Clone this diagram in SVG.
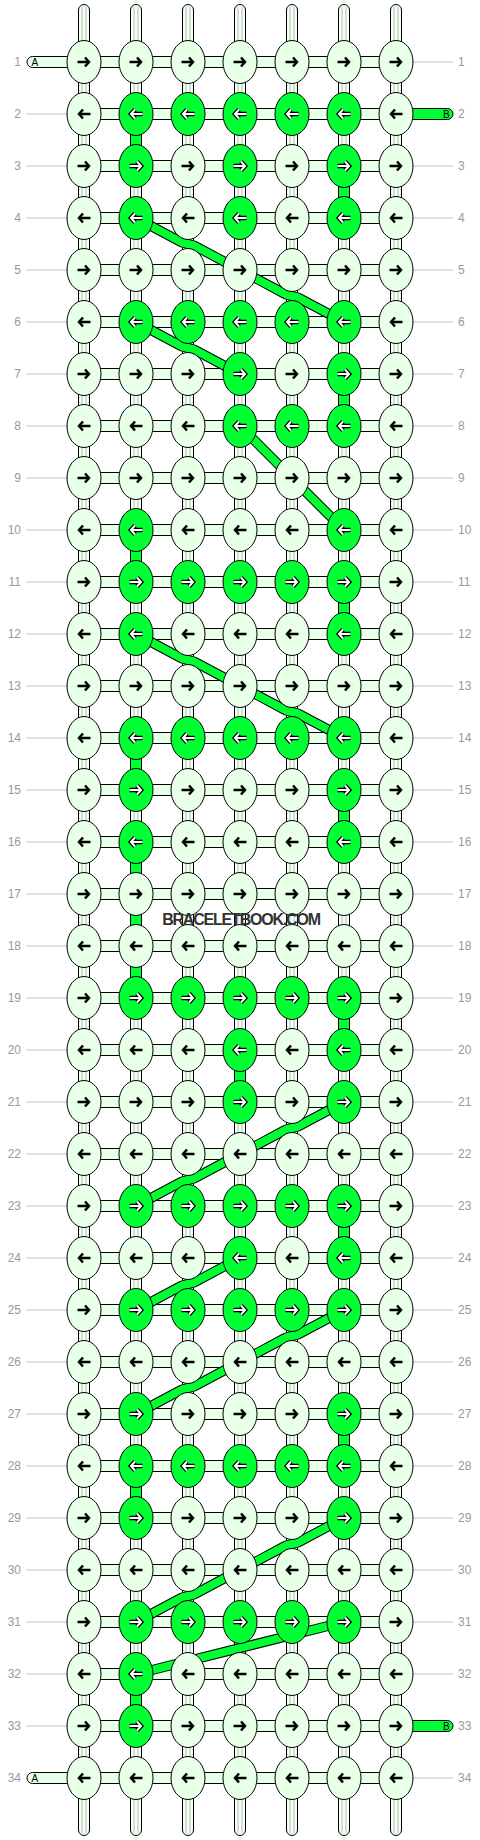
<svg xmlns="http://www.w3.org/2000/svg" width="480" height="1840" viewBox="0 0 480 1840">
<style>
.kl{fill:#e8ffe8;stroke:#000;stroke-width:1}
.kg{fill:#00ff33;stroke:#000;stroke-width:1}
.ab{fill:none;stroke:#000;stroke-width:2.5}
.ao{fill:none;stroke:#000;stroke-width:4.5}
.ai{fill:none;stroke:#fff;stroke-width:2}
.hc{fill:#e8ffe8;stroke:#000;stroke-width:1}
.vs{fill:#f4fff4;stroke:#000;stroke-width:1}
.gl{fill:none;stroke:#bbb;stroke-width:1}
.vg{fill:#00ff33;stroke:#000;stroke-width:1}
.bo{fill:none;stroke:#000;stroke-width:10;stroke-linejoin:round}
.bi{fill:none;stroke:#00ff33;stroke-width:8;stroke-linejoin:round}
.rl{fill:none;stroke:#c4c4c4;stroke-width:1}
.num{font-family:"Liberation Sans",Arial,sans-serif;font-size:12px;fill:#999}
.nr{text-anchor:end}
.lbl{font-family:"Liberation Sans",Arial,sans-serif;font-size:10px;fill:#000}
.wm{font-family:"Liberation Sans",Arial,sans-serif;font-size:16px;font-weight:bold;fill:#333;letter-spacing:-1.2px;text-anchor:middle}
</style>
<defs>
<path id="pr" d="M-6.5,0H4.5M1,-4.5L5,0L1,4.5"/>
<path id="pl" d="M6.5,0H-4.5M-1,-4.5L-5,0L-1,4.5"/>
<g id="Rl"><ellipse class="kl" rx="17" ry="21.5"/><use href="#pr" class="ab"/></g>
<g id="Ll"><ellipse class="kl" rx="17" ry="21.5"/><use href="#pl" class="ab"/></g>
<g id="Rg"><ellipse class="kg" rx="17" ry="21.5"/><use href="#pr" class="ao"/><use href="#pr" class="ai"/></g>
<g id="Lg"><ellipse class="kg" rx="17" ry="21.5"/><use href="#pl" class="ao"/><use href="#pl" class="ai"/></g>
</defs>
<rect width="480" height="1840" fill="#fff"/>
<g id="labels">
<path class="rl" d="M26,114H67M26,166H67M26,218H67M26,270H67M26,322H67M26,374H67M26,426H67M26,478H67M26,530H67M26,582H67M26,634H67M26,686H67M26,738H67M26,790H67M26,842H67M26,894H67M26,946H67M26,998H67M26,1050H67M26,1102H67M26,1154H67M26,1206H67M26,1258H67M26,1310H67M26,1362H67M26,1414H67M26,1466H67M26,1518H67M26,1570H67M26,1622H67M26,1674H67M26,1726H67"/>
<path class="rl" d="M413,62H453M413,166H453M413,218H453M413,270H453M413,322H453M413,374H453M413,426H453M413,478H453M413,530H453M413,582H453M413,634H453M413,686H453M413,738H453M413,790H453M413,842H453M413,894H453M413,946H453M413,998H453M413,1050H453M413,1102H453M413,1154H453M413,1206H453M413,1258H453M413,1310H453M413,1362H453M413,1414H453M413,1466H453M413,1518H453M413,1570H453M413,1622H453M413,1674H453M413,1778H453"/>
<g class="num nr">
<text x="21" y="66.3">1</text><text x="21" y="118.3">2</text><text x="21" y="170.3">3</text><text x="21" y="222.3">4</text><text x="21" y="274.3">5</text><text x="21" y="326.3">6</text><text x="21" y="378.3">7</text><text x="21" y="430.3">8</text><text x="21" y="482.3">9</text><text x="21" y="534.3">10</text><text x="21" y="586.3">11</text><text x="21" y="638.3">12</text><text x="21" y="690.3">13</text><text x="21" y="742.3">14</text><text x="21" y="794.3">15</text><text x="21" y="846.3">16</text><text x="21" y="898.3">17</text><text x="21" y="950.3">18</text><text x="21" y="1002.3">19</text><text x="21" y="1054.3">20</text><text x="21" y="1106.3">21</text><text x="21" y="1158.3">22</text><text x="21" y="1210.3">23</text><text x="21" y="1262.3">24</text><text x="21" y="1314.3">25</text><text x="21" y="1366.3">26</text><text x="21" y="1418.3">27</text><text x="21" y="1470.3">28</text><text x="21" y="1522.3">29</text><text x="21" y="1574.3">30</text><text x="21" y="1626.3">31</text><text x="21" y="1678.3">32</text><text x="21" y="1730.3">33</text><text x="21" y="1782.3">34</text>
</g>
<g class="num">
<text x="458" y="66.3">1</text><text x="458" y="118.3">2</text><text x="458" y="170.3">3</text><text x="458" y="222.3">4</text><text x="458" y="274.3">5</text><text x="458" y="326.3">6</text><text x="458" y="378.3">7</text><text x="458" y="430.3">8</text><text x="458" y="482.3">9</text><text x="458" y="534.3">10</text><text x="458" y="586.3">11</text><text x="458" y="638.3">12</text><text x="458" y="690.3">13</text><text x="458" y="742.3">14</text><text x="458" y="794.3">15</text><text x="458" y="846.3">16</text><text x="458" y="898.3">17</text><text x="458" y="950.3">18</text><text x="458" y="1002.3">19</text><text x="458" y="1054.3">20</text><text x="458" y="1106.3">21</text><text x="458" y="1158.3">22</text><text x="458" y="1210.3">23</text><text x="458" y="1262.3">24</text><text x="458" y="1314.3">25</text><text x="458" y="1366.3">26</text><text x="458" y="1418.3">27</text><text x="458" y="1470.3">28</text><text x="458" y="1522.3">29</text><text x="458" y="1574.3">30</text><text x="458" y="1626.3">31</text><text x="458" y="1678.3">32</text><text x="458" y="1730.3">33</text><text x="458" y="1782.3">34</text>
</g>
</g>
<g id="connectors">
<g id="strands">
<path class="vs" d="M78.5,10A5.5,5.5 0 0 1 89.5,10V1830A5.5,5.5 0 0 1 78.5,1830Z"/>
<path class="vs" d="M130.5,10A5.5,5.5 0 0 1 141.5,10V1830A5.5,5.5 0 0 1 130.5,1830Z"/>
<path class="vs" d="M182.5,10A5.5,5.5 0 0 1 193.5,10V1830A5.5,5.5 0 0 1 182.5,1830Z"/>
<path class="vs" d="M234.5,10A5.5,5.5 0 0 1 245.5,10V1830A5.5,5.5 0 0 1 234.5,1830Z"/>
<path class="vs" d="M286.5,10A5.5,5.5 0 0 1 297.5,10V1830A5.5,5.5 0 0 1 286.5,1830Z"/>
<path class="vs" d="M338.5,10A5.5,5.5 0 0 1 349.5,10V1830A5.5,5.5 0 0 1 338.5,1830Z"/>
<path class="vs" d="M390.5,10A5.5,5.5 0 0 1 401.5,10V1830A5.5,5.5 0 0 1 390.5,1830Z"/>
<path class="gl" d="M82,7V1833M86,7V1833M134,7V1833M138,7V1833M186,7V1833M190,7V1833M238,7V1833M242,7V1833M290,7V1833M294,7V1833M342,7V1833M346,7V1833M394,7V1833M398,7V1833"/>
</g>
<g id="green-verticals" class="vg">
<rect x="130.5" y="124" width="11" height="32"/>
<rect x="338.5" y="176" width="11" height="32"/>
<rect x="338.5" y="384" width="11" height="32"/>
<rect x="130.5" y="540" width="11" height="32"/>
<rect x="338.5" y="592" width="11" height="32"/>
<rect x="130.5" y="748" width="11" height="32"/>
<rect x="338.5" y="800" width="11" height="32"/>
<rect x="130.5" y="852" width="11" height="136"/>
<rect x="338.5" y="1008" width="11" height="32"/>
<rect x="234.5" y="1060" width="11" height="32"/>
<rect x="338.5" y="1216" width="11" height="32"/>
<rect x="338.5" y="1424" width="11" height="32"/>
<rect x="130.5" y="1476" width="11" height="32"/>
<rect x="130.5" y="1684" width="11" height="32"/>
</g>
<g id="rows" class="hc">
<rect x="84" y="56.5" width="312" height="11"/><rect x="84" y="108.5" width="312" height="11"/><rect x="84" y="160.5" width="312" height="11"/><rect x="84" y="212.5" width="312" height="11"/><rect x="84" y="264.5" width="312" height="11"/><rect x="84" y="316.5" width="312" height="11"/><rect x="84" y="368.5" width="312" height="11"/><rect x="84" y="420.5" width="312" height="11"/><rect x="84" y="472.5" width="312" height="11"/><rect x="84" y="524.5" width="312" height="11"/><rect x="84" y="576.5" width="312" height="11"/><rect x="84" y="628.5" width="312" height="11"/><rect x="84" y="680.5" width="312" height="11"/><rect x="84" y="732.5" width="312" height="11"/><rect x="84" y="784.5" width="312" height="11"/><rect x="84" y="836.5" width="312" height="11"/><rect x="84" y="888.5" width="312" height="11"/><rect x="84" y="940.5" width="312" height="11"/><rect x="84" y="992.5" width="312" height="11"/><rect x="84" y="1044.5" width="312" height="11"/><rect x="84" y="1096.5" width="312" height="11"/><rect x="84" y="1148.5" width="312" height="11"/><rect x="84" y="1200.5" width="312" height="11"/><rect x="84" y="1252.5" width="312" height="11"/><rect x="84" y="1304.5" width="312" height="11"/><rect x="84" y="1356.5" width="312" height="11"/><rect x="84" y="1408.5" width="312" height="11"/><rect x="84" y="1460.5" width="312" height="11"/><rect x="84" y="1512.5" width="312" height="11"/><rect x="84" y="1564.5" width="312" height="11"/><rect x="84" y="1616.5" width="312" height="11"/><rect x="84" y="1668.5" width="312" height="11"/><rect x="84" y="1720.5" width="312" height="11"/><rect x="84" y="1772.5" width="312" height="11"/>
</g>
<g id="stubs">
<path class="hc" d="M84,56.5H32.5A5.5,5.5 0 0 0 32.5,67.5H84Z"/>
<path class="hc" d="M84,1772.5H32.5A5.5,5.5 0 0 0 32.5,1783.5H84Z"/>
<path class="vg" d="M396,108.5H447.5A5.5,5.5 0 0 1 447.5,119.5H396Z"/>
<path class="vg" d="M396,1720.5H447.5A5.5,5.5 0 0 1 447.5,1731.5H396Z"/>
<text class="lbl" x="31.5" y="66">A</text>
<text class="lbl" x="31.5" y="1782">A</text>
<text class="lbl" x="443" y="118">B</text>
<text class="lbl" x="443" y="1730">B</text>
</g>
<g id="diagonals">
<polyline class="bo" points="136,218 182,242.5 194,245.5 240,270 286,294.5 298,297.5 344,322"/>
<polyline class="bi" points="136,218 182,242.5 194,245.5 240,270 286,294.5 298,297.5 344,322"/>
<polyline class="bo" points="136,322 182,346.5 194,349.5 240,374"/>
<polyline class="bi" points="136,322 182,346.5 194,349.5 240,374"/>
<polyline class="bo" points="240,426 292,478 344,530"/>
<polyline class="bi" points="240,426 292,478 344,530"/>
<polyline class="bo" points="136,634 182,658.5 194,661.5 240,686 286,710.5 298,713.5 344,738"/>
<polyline class="bi" points="136,634 182,658.5 194,661.5 240,686 286,710.5 298,713.5 344,738"/>
<polyline class="bo" points="344,1102 298,1126.5 286,1129.5 240,1154 194,1178.5 182,1181.5 136,1206"/>
<polyline class="bi" points="344,1102 298,1126.5 286,1129.5 240,1154 194,1178.5 182,1181.5 136,1206"/>
<polyline class="bo" points="240,1258 194,1282.5 182,1285.5 136,1310"/>
<polyline class="bi" points="240,1258 194,1282.5 182,1285.5 136,1310"/>
<polyline class="bo" points="344,1310 298,1334.5 286,1337.5 240,1362 194,1386.5 182,1389.5 136,1414"/>
<polyline class="bi" points="344,1310 298,1334.5 286,1337.5 240,1362 194,1386.5 182,1389.5 136,1414"/>
<polyline class="bo" points="344,1518 298,1542.5 286,1545.5 240,1570 194,1594.5 182,1597.5 136,1622"/>
<polyline class="bi" points="344,1518 298,1542.5 286,1545.5 240,1570 194,1594.5 182,1597.5 136,1622"/>
<polyline class="bo" points="344,1622 136,1674"/>
<polyline class="bi" points="344,1622 136,1674"/>
</g>
</g>
<g id="knots">
<g id="k1_1"><use href="#Rl" x="84" y="62"/></g><g id="k1_2"><use href="#Rl" x="136" y="62"/></g><g id="k1_3"><use href="#Rl" x="188" y="62"/></g><g id="k1_4"><use href="#Rl" x="240" y="62"/></g><g id="k1_5"><use href="#Rl" x="292" y="62"/></g><g id="k1_6"><use href="#Rl" x="344" y="62"/></g><g id="k1_7"><use href="#Rl" x="396" y="62"/></g>
<g id="k2_1"><use href="#Ll" x="84" y="114"/></g><g id="k2_2"><use href="#Lg" x="136" y="114"/></g><g id="k2_3"><use href="#Lg" x="188" y="114"/></g><g id="k2_4"><use href="#Lg" x="240" y="114"/></g><g id="k2_5"><use href="#Lg" x="292" y="114"/></g><g id="k2_6"><use href="#Lg" x="344" y="114"/></g><g id="k2_7"><use href="#Ll" x="396" y="114"/></g>
<g id="k3_1"><use href="#Rl" x="84" y="166"/></g><g id="k3_2"><use href="#Rg" x="136" y="166"/></g><g id="k3_3"><use href="#Rl" x="188" y="166"/></g><g id="k3_4"><use href="#Rg" x="240" y="166"/></g><g id="k3_5"><use href="#Rl" x="292" y="166"/></g><g id="k3_6"><use href="#Rg" x="344" y="166"/></g><g id="k3_7"><use href="#Rl" x="396" y="166"/></g>
<g id="k4_1"><use href="#Ll" x="84" y="218"/></g><g id="k4_2"><use href="#Lg" x="136" y="218"/></g><g id="k4_3"><use href="#Ll" x="188" y="218"/></g><g id="k4_4"><use href="#Lg" x="240" y="218"/></g><g id="k4_5"><use href="#Ll" x="292" y="218"/></g><g id="k4_6"><use href="#Lg" x="344" y="218"/></g><g id="k4_7"><use href="#Ll" x="396" y="218"/></g>
<g id="k5_1"><use href="#Rl" x="84" y="270"/></g><g id="k5_2"><use href="#Rl" x="136" y="270"/></g><g id="k5_3"><use href="#Rl" x="188" y="270"/></g><g id="k5_4"><use href="#Rl" x="240" y="270"/></g><g id="k5_5"><use href="#Rl" x="292" y="270"/></g><g id="k5_6"><use href="#Rl" x="344" y="270"/></g><g id="k5_7"><use href="#Rl" x="396" y="270"/></g>
<g id="k6_1"><use href="#Ll" x="84" y="322"/></g><g id="k6_2"><use href="#Lg" x="136" y="322"/></g><g id="k6_3"><use href="#Lg" x="188" y="322"/></g><g id="k6_4"><use href="#Lg" x="240" y="322"/></g><g id="k6_5"><use href="#Lg" x="292" y="322"/></g><g id="k6_6"><use href="#Lg" x="344" y="322"/></g><g id="k6_7"><use href="#Ll" x="396" y="322"/></g>
<g id="k7_1"><use href="#Rl" x="84" y="374"/></g><g id="k7_2"><use href="#Rl" x="136" y="374"/></g><g id="k7_3"><use href="#Rl" x="188" y="374"/></g><g id="k7_4"><use href="#Rg" x="240" y="374"/></g><g id="k7_5"><use href="#Rl" x="292" y="374"/></g><g id="k7_6"><use href="#Rg" x="344" y="374"/></g><g id="k7_7"><use href="#Rl" x="396" y="374"/></g>
<g id="k8_1"><use href="#Ll" x="84" y="426"/></g><g id="k8_2"><use href="#Ll" x="136" y="426"/></g><g id="k8_3"><use href="#Ll" x="188" y="426"/></g><g id="k8_4"><use href="#Lg" x="240" y="426"/></g><g id="k8_5"><use href="#Lg" x="292" y="426"/></g><g id="k8_6"><use href="#Lg" x="344" y="426"/></g><g id="k8_7"><use href="#Ll" x="396" y="426"/></g>
<g id="k9_1"><use href="#Rl" x="84" y="478"/></g><g id="k9_2"><use href="#Rl" x="136" y="478"/></g><g id="k9_3"><use href="#Rl" x="188" y="478"/></g><g id="k9_4"><use href="#Rl" x="240" y="478"/></g><g id="k9_5"><use href="#Rl" x="292" y="478"/></g><g id="k9_6"><use href="#Rl" x="344" y="478"/></g><g id="k9_7"><use href="#Rl" x="396" y="478"/></g>
<g id="k10_1"><use href="#Ll" x="84" y="530"/></g><g id="k10_2"><use href="#Lg" x="136" y="530"/></g><g id="k10_3"><use href="#Ll" x="188" y="530"/></g><g id="k10_4"><use href="#Ll" x="240" y="530"/></g><g id="k10_5"><use href="#Ll" x="292" y="530"/></g><g id="k10_6"><use href="#Lg" x="344" y="530"/></g><g id="k10_7"><use href="#Ll" x="396" y="530"/></g>
<g id="k11_1"><use href="#Rl" x="84" y="582"/></g><g id="k11_2"><use href="#Rg" x="136" y="582"/></g><g id="k11_3"><use href="#Rg" x="188" y="582"/></g><g id="k11_4"><use href="#Rg" x="240" y="582"/></g><g id="k11_5"><use href="#Rg" x="292" y="582"/></g><g id="k11_6"><use href="#Rg" x="344" y="582"/></g><g id="k11_7"><use href="#Rl" x="396" y="582"/></g>
<g id="k12_1"><use href="#Ll" x="84" y="634"/></g><g id="k12_2"><use href="#Lg" x="136" y="634"/></g><g id="k12_3"><use href="#Ll" x="188" y="634"/></g><g id="k12_4"><use href="#Ll" x="240" y="634"/></g><g id="k12_5"><use href="#Ll" x="292" y="634"/></g><g id="k12_6"><use href="#Lg" x="344" y="634"/></g><g id="k12_7"><use href="#Ll" x="396" y="634"/></g>
<g id="k13_1"><use href="#Rl" x="84" y="686"/></g><g id="k13_2"><use href="#Rl" x="136" y="686"/></g><g id="k13_3"><use href="#Rl" x="188" y="686"/></g><g id="k13_4"><use href="#Rl" x="240" y="686"/></g><g id="k13_5"><use href="#Rl" x="292" y="686"/></g><g id="k13_6"><use href="#Rl" x="344" y="686"/></g><g id="k13_7"><use href="#Rl" x="396" y="686"/></g>
<g id="k14_1"><use href="#Ll" x="84" y="738"/></g><g id="k14_2"><use href="#Lg" x="136" y="738"/></g><g id="k14_3"><use href="#Lg" x="188" y="738"/></g><g id="k14_4"><use href="#Lg" x="240" y="738"/></g><g id="k14_5"><use href="#Lg" x="292" y="738"/></g><g id="k14_6"><use href="#Lg" x="344" y="738"/></g><g id="k14_7"><use href="#Ll" x="396" y="738"/></g>
<g id="k15_1"><use href="#Rl" x="84" y="790"/></g><g id="k15_2"><use href="#Rg" x="136" y="790"/></g><g id="k15_3"><use href="#Rl" x="188" y="790"/></g><g id="k15_4"><use href="#Rl" x="240" y="790"/></g><g id="k15_5"><use href="#Rl" x="292" y="790"/></g><g id="k15_6"><use href="#Rg" x="344" y="790"/></g><g id="k15_7"><use href="#Rl" x="396" y="790"/></g>
<g id="k16_1"><use href="#Ll" x="84" y="842"/></g><g id="k16_2"><use href="#Lg" x="136" y="842"/></g><g id="k16_3"><use href="#Ll" x="188" y="842"/></g><g id="k16_4"><use href="#Ll" x="240" y="842"/></g><g id="k16_5"><use href="#Ll" x="292" y="842"/></g><g id="k16_6"><use href="#Lg" x="344" y="842"/></g><g id="k16_7"><use href="#Ll" x="396" y="842"/></g>
<g id="k17_1"><use href="#Rl" x="84" y="894"/></g><g id="k17_2"><use href="#Rl" x="136" y="894"/></g><g id="k17_3"><use href="#Rl" x="188" y="894"/></g><g id="k17_4"><use href="#Rl" x="240" y="894"/></g><g id="k17_5"><use href="#Rl" x="292" y="894"/></g><g id="k17_6"><use href="#Rl" x="344" y="894"/></g><g id="k17_7"><use href="#Rl" x="396" y="894"/></g>
<g id="k18_1"><use href="#Ll" x="84" y="946"/></g><g id="k18_2"><use href="#Ll" x="136" y="946"/></g><g id="k18_3"><use href="#Ll" x="188" y="946"/></g><g id="k18_4"><use href="#Ll" x="240" y="946"/></g><g id="k18_5"><use href="#Ll" x="292" y="946"/></g><g id="k18_6"><use href="#Ll" x="344" y="946"/></g><g id="k18_7"><use href="#Ll" x="396" y="946"/></g>
<g id="k19_1"><use href="#Rl" x="84" y="998"/></g><g id="k19_2"><use href="#Rg" x="136" y="998"/></g><g id="k19_3"><use href="#Rg" x="188" y="998"/></g><g id="k19_4"><use href="#Rg" x="240" y="998"/></g><g id="k19_5"><use href="#Rg" x="292" y="998"/></g><g id="k19_6"><use href="#Rg" x="344" y="998"/></g><g id="k19_7"><use href="#Rl" x="396" y="998"/></g>
<g id="k20_1"><use href="#Ll" x="84" y="1050"/></g><g id="k20_2"><use href="#Ll" x="136" y="1050"/></g><g id="k20_3"><use href="#Ll" x="188" y="1050"/></g><g id="k20_4"><use href="#Lg" x="240" y="1050"/></g><g id="k20_5"><use href="#Ll" x="292" y="1050"/></g><g id="k20_6"><use href="#Lg" x="344" y="1050"/></g><g id="k20_7"><use href="#Ll" x="396" y="1050"/></g>
<g id="k21_1"><use href="#Rl" x="84" y="1102"/></g><g id="k21_2"><use href="#Rl" x="136" y="1102"/></g><g id="k21_3"><use href="#Rl" x="188" y="1102"/></g><g id="k21_4"><use href="#Rg" x="240" y="1102"/></g><g id="k21_5"><use href="#Rl" x="292" y="1102"/></g><g id="k21_6"><use href="#Rg" x="344" y="1102"/></g><g id="k21_7"><use href="#Rl" x="396" y="1102"/></g>
<g id="k22_1"><use href="#Ll" x="84" y="1154"/></g><g id="k22_2"><use href="#Ll" x="136" y="1154"/></g><g id="k22_3"><use href="#Ll" x="188" y="1154"/></g><g id="k22_4"><use href="#Ll" x="240" y="1154"/></g><g id="k22_5"><use href="#Ll" x="292" y="1154"/></g><g id="k22_6"><use href="#Ll" x="344" y="1154"/></g><g id="k22_7"><use href="#Ll" x="396" y="1154"/></g>
<g id="k23_1"><use href="#Rl" x="84" y="1206"/></g><g id="k23_2"><use href="#Rg" x="136" y="1206"/></g><g id="k23_3"><use href="#Rg" x="188" y="1206"/></g><g id="k23_4"><use href="#Rg" x="240" y="1206"/></g><g id="k23_5"><use href="#Rg" x="292" y="1206"/></g><g id="k23_6"><use href="#Rg" x="344" y="1206"/></g><g id="k23_7"><use href="#Rl" x="396" y="1206"/></g>
<g id="k24_1"><use href="#Ll" x="84" y="1258"/></g><g id="k24_2"><use href="#Ll" x="136" y="1258"/></g><g id="k24_3"><use href="#Ll" x="188" y="1258"/></g><g id="k24_4"><use href="#Lg" x="240" y="1258"/></g><g id="k24_5"><use href="#Ll" x="292" y="1258"/></g><g id="k24_6"><use href="#Lg" x="344" y="1258"/></g><g id="k24_7"><use href="#Ll" x="396" y="1258"/></g>
<g id="k25_1"><use href="#Rl" x="84" y="1310"/></g><g id="k25_2"><use href="#Rg" x="136" y="1310"/></g><g id="k25_3"><use href="#Rg" x="188" y="1310"/></g><g id="k25_4"><use href="#Rg" x="240" y="1310"/></g><g id="k25_5"><use href="#Rg" x="292" y="1310"/></g><g id="k25_6"><use href="#Rg" x="344" y="1310"/></g><g id="k25_7"><use href="#Rl" x="396" y="1310"/></g>
<g id="k26_1"><use href="#Ll" x="84" y="1362"/></g><g id="k26_2"><use href="#Ll" x="136" y="1362"/></g><g id="k26_3"><use href="#Ll" x="188" y="1362"/></g><g id="k26_4"><use href="#Ll" x="240" y="1362"/></g><g id="k26_5"><use href="#Ll" x="292" y="1362"/></g><g id="k26_6"><use href="#Ll" x="344" y="1362"/></g><g id="k26_7"><use href="#Ll" x="396" y="1362"/></g>
<g id="k27_1"><use href="#Rl" x="84" y="1414"/></g><g id="k27_2"><use href="#Rg" x="136" y="1414"/></g><g id="k27_3"><use href="#Rl" x="188" y="1414"/></g><g id="k27_4"><use href="#Rl" x="240" y="1414"/></g><g id="k27_5"><use href="#Rl" x="292" y="1414"/></g><g id="k27_6"><use href="#Rg" x="344" y="1414"/></g><g id="k27_7"><use href="#Rl" x="396" y="1414"/></g>
<g id="k28_1"><use href="#Ll" x="84" y="1466"/></g><g id="k28_2"><use href="#Lg" x="136" y="1466"/></g><g id="k28_3"><use href="#Lg" x="188" y="1466"/></g><g id="k28_4"><use href="#Lg" x="240" y="1466"/></g><g id="k28_5"><use href="#Lg" x="292" y="1466"/></g><g id="k28_6"><use href="#Lg" x="344" y="1466"/></g><g id="k28_7"><use href="#Ll" x="396" y="1466"/></g>
<g id="k29_1"><use href="#Rl" x="84" y="1518"/></g><g id="k29_2"><use href="#Rg" x="136" y="1518"/></g><g id="k29_3"><use href="#Rl" x="188" y="1518"/></g><g id="k29_4"><use href="#Rl" x="240" y="1518"/></g><g id="k29_5"><use href="#Rl" x="292" y="1518"/></g><g id="k29_6"><use href="#Rg" x="344" y="1518"/></g><g id="k29_7"><use href="#Rl" x="396" y="1518"/></g>
<g id="k30_1"><use href="#Ll" x="84" y="1570"/></g><g id="k30_2"><use href="#Ll" x="136" y="1570"/></g><g id="k30_3"><use href="#Ll" x="188" y="1570"/></g><g id="k30_4"><use href="#Ll" x="240" y="1570"/></g><g id="k30_5"><use href="#Ll" x="292" y="1570"/></g><g id="k30_6"><use href="#Ll" x="344" y="1570"/></g><g id="k30_7"><use href="#Ll" x="396" y="1570"/></g>
<g id="k31_1"><use href="#Rl" x="84" y="1622"/></g><g id="k31_2"><use href="#Rg" x="136" y="1622"/></g><g id="k31_3"><use href="#Rg" x="188" y="1622"/></g><g id="k31_4"><use href="#Rg" x="240" y="1622"/></g><g id="k31_5"><use href="#Rg" x="292" y="1622"/></g><g id="k31_6"><use href="#Rg" x="344" y="1622"/></g><g id="k31_7"><use href="#Rl" x="396" y="1622"/></g>
<g id="k32_1"><use href="#Ll" x="84" y="1674"/></g><g id="k32_2"><use href="#Lg" x="136" y="1674"/></g><g id="k32_3"><use href="#Ll" x="188" y="1674"/></g><g id="k32_4"><use href="#Ll" x="240" y="1674"/></g><g id="k32_5"><use href="#Ll" x="292" y="1674"/></g><g id="k32_6"><use href="#Ll" x="344" y="1674"/></g><g id="k32_7"><use href="#Ll" x="396" y="1674"/></g>
<g id="k33_1"><use href="#Rl" x="84" y="1726"/></g><g id="k33_2"><use href="#Rg" x="136" y="1726"/></g><g id="k33_3"><use href="#Rl" x="188" y="1726"/></g><g id="k33_4"><use href="#Rl" x="240" y="1726"/></g><g id="k33_5"><use href="#Rl" x="292" y="1726"/></g><g id="k33_6"><use href="#Rl" x="344" y="1726"/></g><g id="k33_7"><use href="#Rl" x="396" y="1726"/></g>
<g id="k34_1"><use href="#Ll" x="84" y="1778"/></g><g id="k34_2"><use href="#Ll" x="136" y="1778"/></g><g id="k34_3"><use href="#Ll" x="188" y="1778"/></g><g id="k34_4"><use href="#Ll" x="240" y="1778"/></g><g id="k34_5"><use href="#Ll" x="292" y="1778"/></g><g id="k34_6"><use href="#Ll" x="344" y="1778"/></g><g id="k34_7"><use href="#Ll" x="396" y="1778"/></g>
</g>
<text class="wm" x="241" y="925">BRACELETBOOK.COM</text>
</svg>
